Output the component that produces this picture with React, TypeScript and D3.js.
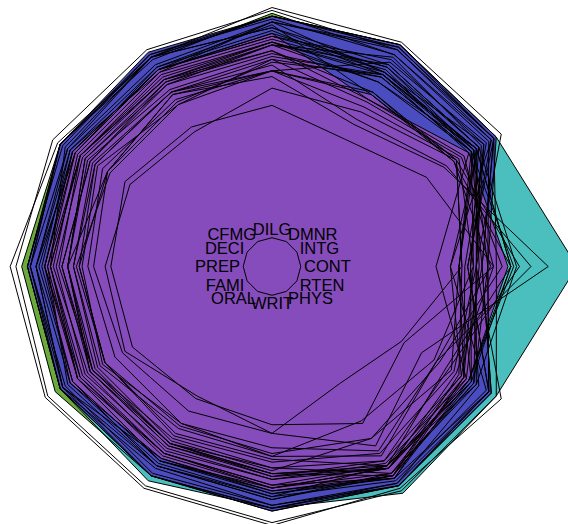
import React from "react";
import * as d3 from "d3";

const AXES = ["CONT", "INTG", "DMNR", "DILG", "CFMG", "DECI", "PREP", "FAMI", "ORAL", "WRIT", "PHYS", "RTEN"];

const JUDGES = [
  "AARONSON", "ALEXANDER", "ARMENTANO", "BERDON", "BURNS", "CALLAHAN", "DALY",
  "DANNEHY", "DEAN", "DEVITA", "DRISCOLL", "GRILLO", "HADDEN", "HAMILL", "HEALEY", "HULL",
  "LEVINE", "LEVISTER", "MARTIN", "MCGRATH", "MIGNONE", "MISSAL", "MULVEY", "NARUK",
  "O'BRIEN", "O'SULLIVAN", "PASKEY", "RUBINOW", "SADEN", "SATANIELLO", "SHEA,D", "SHEA,J",
  "SIDOR", "SPEZIALE", "SPONZO", "STAPLETON", "TESTO", "TIERNEY", "WALL", "WRIGHT", "ZARRILLI",
];

const CONT = [5.7, 6.8, 7.2, 6.8, 6.2, 10.6, 7.3, 8.2, 7.0, 6.5, 6.7, 7.0, 6.5, 7.3, 8.0, 7.7, 8.3, 9.6, 7.1, 7.6, 6.6, 6.2, 7.5, 7.8, 7.1, 7.5, 7.5, 7.1, 6.6, 8.4, 6.9, 7.3, 7.7, 8.5, 6.9, 6.5, 8.3, 8.3, 9.0, 7.1, 8.6];
const INTG = [7.9, 8.9, 8.1, 8.8, 8.8, 9.0, 8.9, 7.9, 8.0, 8.0, 8.6, 7.5, 8.1, 8.0, 7.6, 7.7, 8.2, 6.9, 8.2, 7.3, 7.4, 8.3, 8.7, 8.9, 8.5, 9.0, 8.1, 9.2, 7.4, 8.0, 8.5, 8.9, 6.2, 8.3, 8.3, 8.2, 7.3, 8.2, 7.0, 8.4, 7.4];
const DMNR = [7.7, 8.8, 7.8, 8.5, 8.7, 8.9, 8.9, 6.7, 7.6, 7.6, 8.2, 6.4, 8.0, 7.4, 6.6, 6.7, 7.4, 5.7, 7.7, 6.9, 6.2, 8.1, 8.5, 8.7, 8.3, 8.9, 7.7, 9.0, 6.9, 7.9, 7.8, 8.8, 5.1, 8.1, 8.0, 7.7, 7.0, 7.8, 5.9, 8.4, 7.0];
const DILG = [7.3, 8.5, 7.8, 8.8, 8.5, 8.7, 8.7, 8.1, 7.4, 7.2, 6.8, 6.8, 8.0, 7.7, 7.2, 7.5, 7.8, 6.6, 7.1, 6.8, 6.2, 7.7, 8.6, 8.9, 8.0, 8.7, 8.2, 9.0, 8.4, 7.9, 8.5, 8.7, 5.6, 8.3, 8.1, 7.8, 6.8, 8.3, 7.0, 7.7, 7.5];
const CFMG = [7.1, 7.8, 7.5, 8.3, 7.9, 8.5, 8.6, 7.9, 7.3, 7.0, 6.9, 6.5, 7.9, 7.3, 6.5, 7.4, 7.7, 6.9, 6.6, 6.7, 5.4, 7.4, 8.5, 8.7, 7.9, 8.4, 8.0, 8.4, 8.0, 7.8, 8.1, 8.4, 5.6, 8.4, 7.9, 7.6, 7.0, 8.4, 7.0, 7.5, 7.5];
const DECI = [7.4, 8.1, 7.6, 8.5, 8.0, 8.5, 8.5, 8.0, 7.5, 7.1, 6.6, 7.0, 8.0, 7.3, 6.5, 7.5, 7.7, 6.6, 6.6, 6.8, 5.7, 7.3, 8.4, 8.8, 7.9, 8.5, 8.1, 8.6, 7.9, 7.8, 8.2, 8.5, 5.9, 8.2, 7.9, 7.7, 7.1, 8.3, 7.2, 7.7, 7.7];
const PREP = [7.1, 8.0, 7.5, 8.7, 8.1, 8.5, 8.4, 7.9, 7.1, 6.9, 7.1, 6.6, 7.9, 7.3, 6.8, 7.1, 7.7, 6.2, 6.7, 6.4, 5.8, 7.3, 8.5, 8.9, 7.8, 8.4, 8.2, 9.1, 8.2, 7.6, 8.4, 8.5, 5.6, 8.2, 7.9, 7.7, 6.7, 7.7, 6.9, 7.8, 7.4];
const FAMI = [7.1, 8.0, 7.5, 8.7, 8.0, 8.5, 8.4, 8.1, 7.2, 7.0, 7.3, 6.8, 7.8, 7.2, 6.7, 7.3, 7.8, 6.0, 6.7, 6.3, 5.9, 7.3, 8.5, 9.0, 7.8, 8.3, 8.4, 9.1, 8.4, 7.4, 8.5, 8.5, 5.6, 8.1, 7.7, 7.7, 6.7, 7.6, 6.9, 8.2, 7.2];
const ORAL = [7.1, 7.8, 7.3, 8.4, 8.0, 8.6, 8.4, 7.7, 7.1, 7.0, 7.2, 6.3, 7.8, 7.1, 6.4, 7.1, 7.5, 5.8, 6.8, 6.3, 5.2, 7.2, 8.4, 8.8, 7.8, 8.3, 8.0, 8.9, 7.7, 7.4, 8.1, 8.4, 5.3, 7.9, 7.6, 7.5, 6.7, 7.5, 6.5, 8.0, 6.9];
const WRIT = [7.0, 7.9, 7.4, 8.5, 8.0, 8.4, 8.5, 7.8, 7.2, 7.1, 7.2, 6.6, 7.8, 7.2, 6.5, 7.3, 7.6, 5.8, 6.8, 6.3, 5.8, 7.3, 8.4, 8.9, 7.7, 8.3, 8.1, 9.0, 7.9, 7.4, 8.3, 8.4, 5.5, 8.0, 7.7, 7.6, 6.7, 7.7, 6.6, 8.1, 7.0];
const PHYS = [8.3, 8.5, 7.9, 8.8, 8.6, 9.1, 8.8, 8.5, 8.4, 6.9, 8.1, 6.2, 8.4, 8.0, 6.9, 8.1, 8.0, 7.2, 7.5, 7.4, 4.7, 7.8, 8.7, 9.0, 8.3, 8.8, 8.4, 8.9, 8.4, 8.1, 8.7, 8.8, 6.3, 8.0, 8.1, 8.5, 8.0, 8.1, 7.6, 8.3, 7.8];
const RTEN = [7.8, 8.7, 7.8, 8.7, 8.6, 9.0, 8.8, 7.9, 7.7, 7.2, 7.7, 6.5, 8.0, 7.6, 6.7, 7.4, 8.0, 6.0, 7.3, 6.6, 5.2, 7.6, 8.7, 9.0, 8.2, 8.7, 8.1, 9.2, 7.5, 7.9, 8.3, 8.8, 5.3, 8.2, 8.0, 7.7, 7.0, 7.9, 6.6, 8.1, 7.1];

// fill group of each judge (same order as JUDGES)
const GROUP = [
  "blue", "blue", "blue", "green", "blue", "teal", "blue",
  "purple", "blue", "blue", "blue", "purple", "blue", "blue", "purple", "purple",
  "teal", "teal", "blue", "purple", "purple", "blue", "blue", "none",
  "blue", "blue", "blue", "none", "blue", "teal", "blue", "blue",
  "purple", "teal", "blue", "blue", "teal", "teal", "teal", "blue", "teal",
];

const GROUP_ORDER = ["none", "green", "teal", "blue", "purple"];
const GROUP_FILL: Record<string, string> = {
  none: "none",
  green: "#6aab3c",
  teal: "#4bbebe",
  blue: "#4b4cbf",
  purple: "#864cbc",
};

const COLUMNS = [CONT, INTG, DMNR, DILG, CFMG, DECI, PREP, FAMI, ORAL, WRIT, PHYS, RTEN];

const W = 568;
const H = 524;
const CX = 272;
const CY = 266.5;

export default function App() {
  const r = d3.scaleLinear().domain([0, 10.6]).range([0, 305]);
  const n = AXES.length;
  const angle = (i: number) => Math.PI / 2 - (i * 2 * Math.PI) / n;

  const line = d3
    .lineRadial<number>()
    .angle((_d, i) => angle(i))
    .radius((d) => r(d))
    .curve(d3.curveLinearClosed);

  const rows = JUDGES.map((name, j) => ({
    name,
    group: GROUP[j],
    values: COLUMNS.map((col) => col[j]),
  }));

  const ordered = GROUP_ORDER.flatMap((g) => rows.filter((d) => d.group === g));

  const ring = AXES.map(() => 1);

  return (
    <svg
      width={W}
      height={H}
      style={{ position: "absolute", left: 0, top: 0, background: "#fff" }}
      fontFamily="'Liberation Sans', Arial, sans-serif"
    >
      <g transform={`translate(${CX},${CY})`}>
        {ordered.map((d) => (
          <path key={"f" + d.name} d={line(d.values) || ""} fill={GROUP_FILL[d.group]} stroke="none" />
        ))}
        {ordered.map((d) => (
          <path key={"s" + d.name} d={line(d.values) || ""} fill="none" stroke="#000" strokeWidth={1} />
        ))}
        <path d={line(ring) || ""} fill="none" stroke="#000" strokeWidth={1} />
        {AXES.map((a, i) => {
          const t = (i * 2 * Math.PI) / n;
          const c = Math.cos(t);
          const s = Math.sin(t);
          const anchor = Math.abs(c) < 0.01 ? "middle" : c > 0 ? "start" : "end";
          return (
            <text
              key={a}
              x={32 * c}
              y={-37 * s}
              dy="0.35em"
              textAnchor={anchor}
              fontSize={16.5}
              fill="#000"
            >
              {a}
            </text>
          );
        })}
      </g>
    </svg>
  );
}
